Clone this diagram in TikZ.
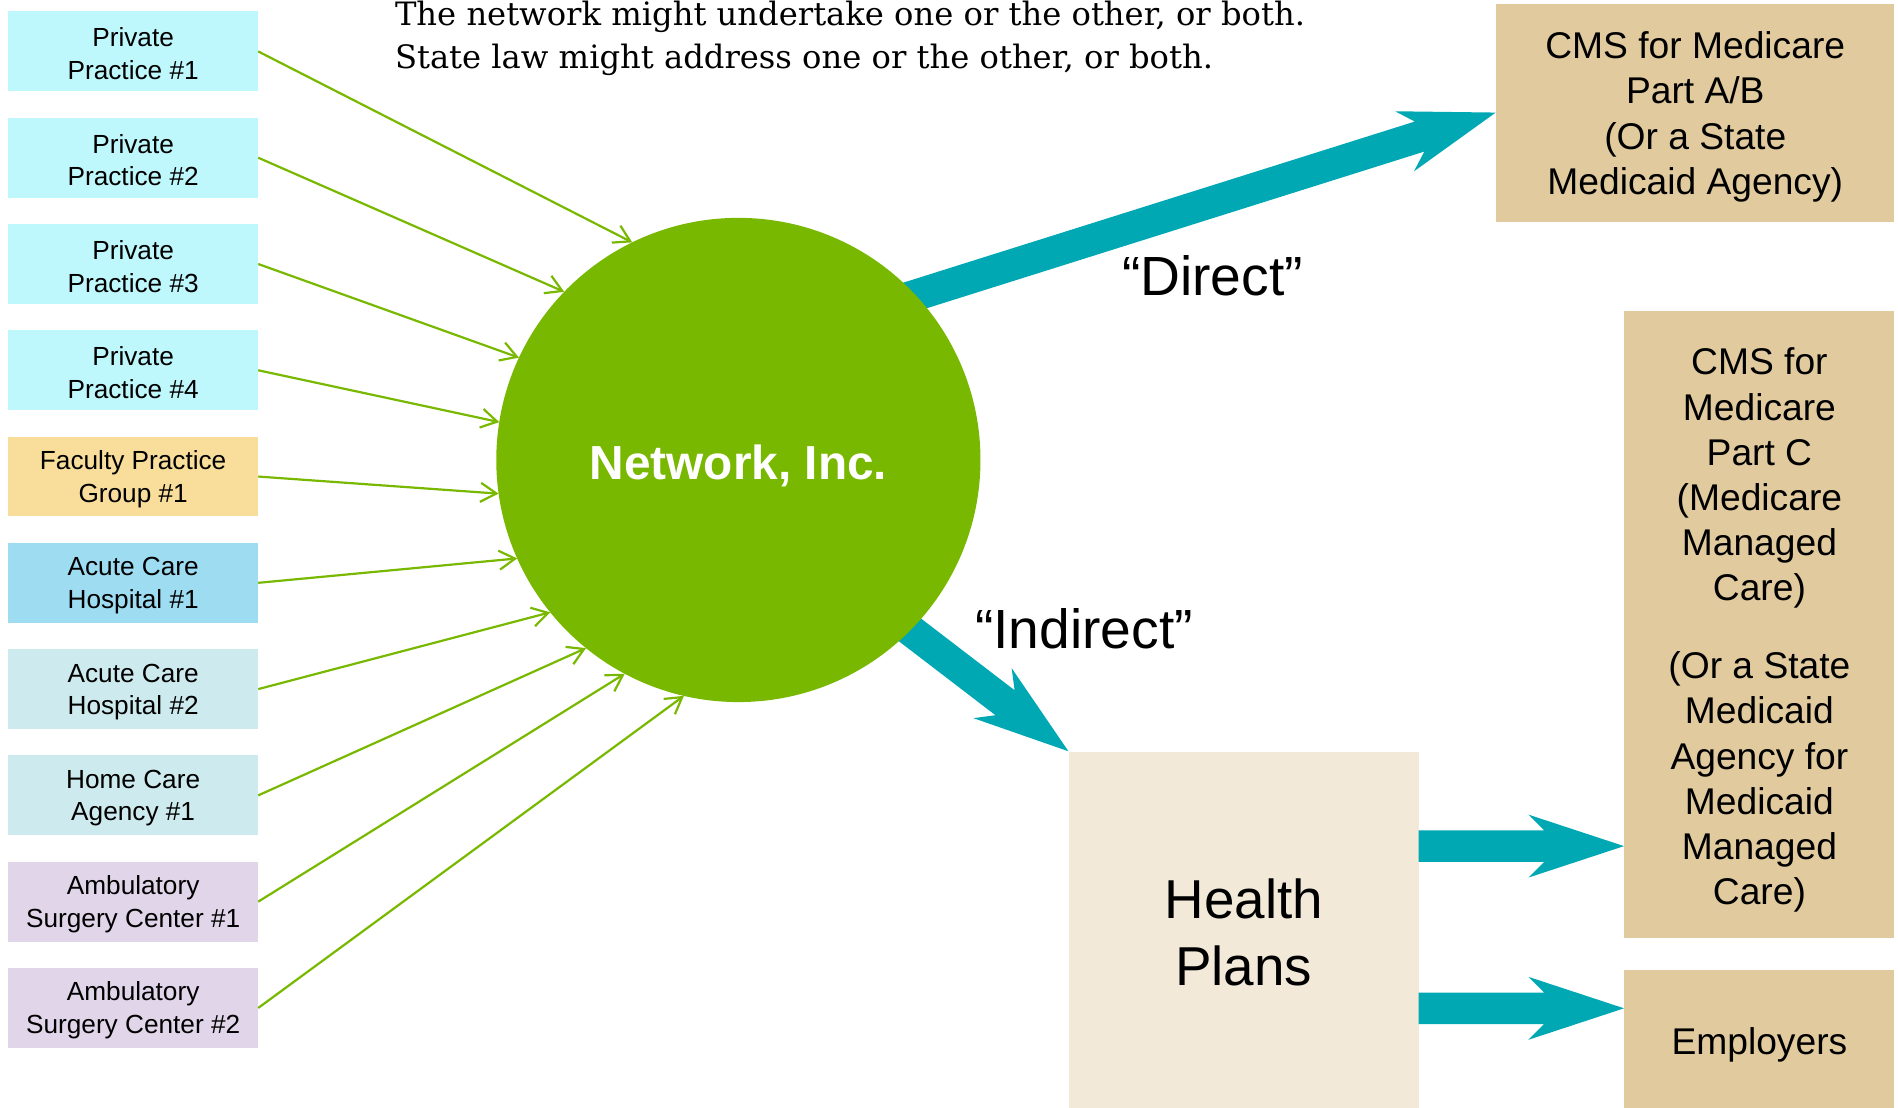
\documentclass[tikz,border=0pt]{standalone}
\usepackage{fontspec}
\setmainfont{Liberation Sans}
\newfontfamily\noteserif{DejaVu Serif}
\usetikzlibrary{arrows.meta,calc}

\definecolor{netgreen}{HTML}{78B800}
\definecolor{flowteal}{HTML}{00A8B3}
\definecolor{privfill}{HTML}{BFF8FC}
\definecolor{facfill}{HTML}{F8DD9B}
\definecolor{hospfill}{HTML}{9DDCF1}
\definecolor{palecyan}{HTML}{CDEBEE}
\definecolor{ambfill}{HTML}{E1D5EA}
\definecolor{payerfill}{HTML}{E1CB9E}
\definecolor{planfill}{HTML}{F2E9D8}

% taller first line, so that the text block sits a little lower in its box
\newcommand\sink[1]{\rule{0pt}{\dimexpr 0.73em + #1\relax}}
\newcommand\srcsink{\sink{2.4pt}}

% wide teal arrow: #1 prefix for helper points, #2 tail, #3 tip
\newcommand\fatarrow[3]{%
  \coordinate (#1n) at ($(#3)!39.94pt!(#2)$);
  \coordinate (#1b) at ($(#3)!47.81pt!(#2)$);
  \fill[flowteal]
    ($(#2)!7.87pt!90:(#3)$) -- ($(#1n)!7.87pt!90:(#3)$) --
    ($(#1b)!15.74pt!90:(#3)$) -- (#3) --
    ($(#1b)!15.74pt!-90:(#3)$) -- ($(#1n)!7.87pt!-90:(#3)$) --
    ($(#2)!7.87pt!-90:(#3)$) -- cycle;}

\begin{document}
\begin{tikzpicture}[x=0.6052pt,y=-0.6052pt,
  srcbox/.style={rectangle, minimum width=124.67pt, minimum height=39.94pt,
    inner sep=0pt, align=center, font=\fontsize{13.1}{16.3}\selectfont},
  payer/.style={rectangle, fill=payerfill, inner sep=0pt, align=center,
    font=\fontsize{18.6}{22.6}\selectfont},
  feed/.style={draw=netgreen, line width=1.1pt,
    -{Straight Barb[length=8pt,width=9.5pt]}},
  flowlabel/.style={anchor=base, inner sep=0pt, font=\fontsize{27.6}{33}\selectfont},
  note/.style={anchor=base west, inner sep=0pt, font=\noteserif\fontsize{16.1}{21.5}\selectfont}]

\useasboundingbox (0,0) rectangle (1568,915);

% heading text
\node[note] (note1) at (326,20.7) {The network might undertake one or the other, or both.};
\node[note] (note2) at (326,56.3) {State law might address one or the other, or both.};

% member organisations
\node[srcbox, fill=privfill] (pp1) at (110,42.5) {\srcsink Private\\Practice \#1};
\node[srcbox, fill=privfill] (pp2) at (110,130.3) {\srcsink Private\\Practice \#2};
\node[srcbox, fill=privfill] (pp3) at (110,218.1) {\srcsink Private\\Practice \#3};
\node[srcbox, fill=privfill] (pp4) at (110,305.9) {\srcsink Private\\Practice \#4};
\node[srcbox, fill=facfill] (fpg) at (110,393.7) {\srcsink Faculty Practice\\Group \#1};
\node[srcbox, fill=hospfill] (ach1) at (110,481.5) {\srcsink Acute Care\\Hospital \#1};
\node[srcbox, fill=palecyan] (ach2) at (110,569.3) {\srcsink Acute Care\\Hospital \#2};
\node[srcbox, fill=palecyan] (hca) at (110,657.1) {\srcsink Home Care\\Agency \#1};
\node[srcbox, fill=ambfill] (asc1) at (110,744.9) {\srcsink Ambulatory\\Surgery Center \#1};
\node[srcbox, fill=ambfill] (asc2) at (110,832.7) {\srcsink Ambulatory\\Surgery Center \#2};

% payers
\node[payer, minimum width=199.11pt, minimum height=108.94pt] (cmsab) at (1400.5,93)
  {\sink{4.2pt}CMS for Medicare\\Part A/B\\(Or a State\\Medicaid Agency)};
\node[payer, minimum width=134.96pt, minimum height=313.49pt] (cmsc) at (1453.5,516)
  {\sink{5.4pt}CMS for\\Medicare\\Part C\\(Medicare\\Managed\\Care)\\[16.3pt](Or a State\\Medicaid\\Agency for\\Medicaid\\Managed\\Care)};
\node[payer, minimum width=134.96pt, minimum height=68.99pt] (emp) at (1453.5,858)
  {\sink{6pt}Employers};
\node[rectangle, fill=planfill, minimum width=174.9pt, minimum height=177.93pt, inner sep=0pt,
  align=center, font=\fontsize{27.4}{33.3}\selectfont] (hp) at (1027.5,768)
  {\sink{2.4pt}Health\\Plans};

% contracting paths
\coordinate (ds) at (739.7,249.2);
\coordinate (is) at (733.6,506.5);
\coordinate (h1s) at (1172,699);
\coordinate (h1t) at (cmsc.west |- h1s);
\coordinate (h2s) at (1172,833);
\coordinate (h2t) at (emp.west |- h2s);
\fatarrow{da}{ds}{cmsab.west}
\fatarrow{ia}{is}{hp.north west}
\fatarrow{ha}{h1s}{h1t}
\fatarrow{hb}{h2s}{h2t}

\node[flowlabel] (direct) at (1001.7,244.5) {“Direct”};
\node[flowlabel] (indirect) at (895.5,535.6) {“Indirect”};

% the network
\node[circle, fill=netgreen, minimum size=242.08pt, inner sep=0pt, outer sep=0pt,
  text=white, font=\bfseries\fontsize{23.9}{28}\selectfont] (net) at (610,380)
  {\sink{6pt}Network, Inc.};

\draw[feed] (pp1.east) -- (net.116.3);
\draw[feed] (pp2.east) -- (net.136.4);
\draw[feed] (pp3.east) -- (net.155);
\draw[feed] (pp4.east) -- (net.171.7);
\draw[feed] (fpg.east) -- (net.188.6);
\draw[feed] (ach1.east) -- (net.204.5);
\draw[feed] (ach2.east) -- (net.219);
\draw[feed] (hca.east) -- (net.231.6);
\draw[feed] (asc1.east) -- (net.242.3);
\draw[feed] (asc2.east) -- (net.257.9);
\end{tikzpicture}
\end{document}
